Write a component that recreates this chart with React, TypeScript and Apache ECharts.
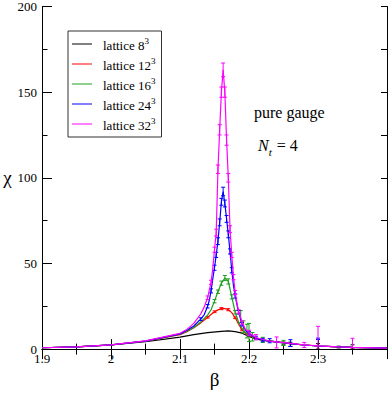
import React, { useEffect, useRef } from "react";
import * as echarts from "echarts";

// ---------- data ----------
const seriesNames = ["lattice 8", "lattice 12", "lattice 16", "lattice 24", "lattice 32"];
const seriesColors = ["#000000", "#ff0000", "#1e9e1e", "#0000ff", "#ff00ff"];

const beta8 = [1.9, 1.95, 2.0, 2.05, 2.1, 2.12, 2.14, 2.16, 2.17, 2.18, 2.19, 2.2, 2.21, 2.22, 2.24, 2.26, 2.28, 2.3, 2.33, 2.35, 2.4];
const chi8 = [0.8, 1.3, 2.4, 4.3, 7.0, 8.4, 9.6, 10.4, 10.6, 10.2, 9.3, 7.4, 6.0, 5.1, 4.1, 3.2, 2.4, 1.8, 1.3, 1.0, 0.6];

const beta12 = [1.9, 1.95, 2.0, 2.05, 2.1, 2.11, 2.12, 2.13, 2.14, 2.145, 2.15, 2.155, 2.16, 2.165, 2.17, 2.175, 2.18, 2.185, 2.19, 2.195, 2.2, 2.21, 2.22, 2.24, 2.26, 2.28, 2.3, 2.33, 2.35, 2.4];
const chi12 = [0.8, 1.3, 2.5, 4.6, 8.4, 10.2, 12.5, 15.3, 18.5, 20.2, 21.8, 22.9, 23.6, 23.7, 23.0, 21.3, 18.3, 14.6, 11.2, 9.3, 8.0, 6.4, 5.3, 4.2, 3.2, 2.4, 1.8, 1.3, 1.0, 0.6];

const beta16 = [1.9, 1.95, 2.0, 2.05, 2.1, 2.11, 2.12, 2.13, 2.14, 2.145, 2.15, 2.155, 2.16, 2.165, 2.17, 2.175, 2.18, 2.185, 2.19, 2.195, 2.2, 2.21, 2.22, 2.24, 2.26, 2.28, 2.3, 2.33, 2.35, 2.4];
const chi16 = [0.8, 1.3, 2.5, 4.7, 8.7, 10.4, 12.6, 15.8, 19.8, 23.0, 28.0, 33.5, 38.5, 41.5, 39.5, 30.5, 21.5, 15.5, 12.0, 9.8, 8.6, 6.6, 5.4, 4.2, 3.2, 2.4, 1.8, 1.3, 1.0, 0.6];

const beta24 = [1.9, 1.95, 2.0, 2.05, 2.1, 2.11, 2.12, 2.13, 2.135, 2.14, 2.1425, 2.145, 2.1475, 2.15, 2.1525, 2.155, 2.1575, 2.16, 2.1625, 2.165, 2.1675, 2.17, 2.1725, 2.175, 2.1775, 2.18, 2.1825, 2.185, 2.19, 2.195, 2.2, 2.205, 2.21, 2.215, 2.22, 2.23, 2.24, 2.25, 2.26, 2.28, 2.3, 2.33, 2.35, 2.4];
const chi24 = [0.8, 1.3, 2.5, 4.7, 8.9, 11.0, 13.5, 17.5, 20.0, 25.0, 28.5, 34.0, 41.0, 47.5, 55.0, 63.0, 74.0, 86.0, 92.0, 85.0, 76.0, 67.0, 57.0, 46.0, 37.0, 31.0, 26.0, 21.5, 14.5, 11.0, 9.0, 7.6, 6.5, 5.8, 5.3, 4.7, 4.2, 3.7, 3.2, 2.4, 1.8, 1.3, 1.0, 0.6];

const beta32 = [1.9, 1.95, 2.0, 2.05, 2.1, 2.11, 2.12, 2.13, 2.135, 2.14, 2.145, 2.1475, 2.15, 2.1525, 2.155, 2.1575, 2.16, 2.1625, 2.165, 2.1675, 2.17, 2.1725, 2.175, 2.1775, 2.18, 2.1825, 2.185, 2.19, 2.195, 2.2, 2.21, 2.22, 2.23, 2.24, 2.26, 2.28, 2.3, 2.33, 2.35, 2.4];
const chi32 = [0.8, 1.3, 2.5, 4.8, 9.2, 11.5, 15.0, 20.5, 24.5, 30.0, 39.0, 47.0, 58.0, 68.0, 105.0, 128.0, 150.0, 163.0, 150.0, 122.0, 100.0, 70.0, 55.0, 42.0, 33.0, 27.0, 22.0, 15.5, 11.5, 9.5, 6.8, 5.6, 4.7, 4.2, 3.3, 2.5, 1.9, 1.3, 1.0, 0.6];

// measured points: [beta, chi, error]
const err8 = [[2.25, 3.3, 0.8], [2.26, 2.8, 1.2], [2.3, 1.6, 1.6], [2.33, 1.2, 0.5], [2.35, 1.3, 1.2]];
const err12 = [[2.14, 18.5, 0.4], [2.15, 21.8, 0.5], [2.16, 23.6, 0.6], [2.17, 23.0, 0.6], [2.18, 18.3, 0.5], [2.19, 11.2, 0.5], [2.2, 8.0, 0.5]];
const err16 = [[2.15, 28.0, 1.0], [2.155, 33.5, 1.0], [2.16, 38.5, 1.2], [2.165, 41.5, 1.5], [2.17, 39.5, 1.5], [2.175, 30.5, 1.2], [2.18, 21.5, 1.0], [2.188, 19.0, 3.5], [2.192, 13.0, 3.5], [2.197, 10.5, 4.0], [2.2, 9.7, 5.3], [2.205, 7.2, 2.5], [2.22, 5.4, 1.5], [2.25, 3.6, 1.5]];
const err24 = [[2.13, 17.5, 0.8], [2.14, 25.0, 1.0], [2.145, 34.0, 1.2], [2.15, 47.5, 1.5], [2.1525, 55.0, 1.5], [2.155, 63.0, 2.0], [2.1575, 74.0, 2.0], [2.16, 86.0, 2.0], [2.1625, 92.0, 2.5], [2.165, 85.0, 2.0], [2.1675, 76.0, 2.0], [2.17, 67.0, 2.0], [2.1725, 57.0, 1.5], [2.175, 46.0, 1.5], [2.18, 31.0, 1.2], [2.185, 21.5, 1.0], [2.19, 14.5, 1.0], [2.2, 9.0, 1.2], [2.21, 6.5, 1.0], [2.22, 5.3, 1.0], [2.23, 4.9, 1.2], [2.26, 3.5, 2.0], [2.3, 6.0, 0.4]];
const err32 = [[2.14, 30.0, 1.0], [2.145, 39.0, 1.2], [2.15, 58.0, 1.5], [2.1525, 68.0, 2.0], [2.155, 105.0, 2.5], [2.1575, 128.0, 3.0], [2.16, 150.0, 3.0], [2.1625, 163.0, 4.0], [2.165, 150.0, 3.0], [2.1675, 122.0, 3.0], [2.17, 100.0, 2.5], [2.1725, 70.0, 2.0], [2.175, 55.0, 1.5], [2.1775, 42.0, 1.5], [2.18, 33.0, 1.2], [2.185, 22.0, 1.0], [2.19, 15.5, 1.0], [2.2, 9.5, 1.5], [2.21, 7.0, 1.5], [2.24, 3.9, 3.2], [2.28, 2.4, 1.5], [2.3, 6.5, 6.8], [2.35, 3.5, 2.8]];

const xTicks = [1.9, 2.0, 2.1, 2.2, 2.3];
const yTicks = [0, 50, 100, 150, 200];

const curves = [
  [beta8, chi8],
  [beta12, chi12],
  [beta16, chi16],
  [beta24, chi24],
  [beta32, chi32],
];
const errSets = [err8, err12, err16, err24, err32];

const FONT = "Liberation Serif";

export default function App() {
  const ref = useRef<HTMLDivElement>(null);
  useEffect(() => {
    if (!ref.current) return;
    const chart = echarts.init(ref.current, null, { renderer: "svg" });

    const lineSeries = curves.map(([bs, cs], i) => ({
      name: seriesNames[i],
      type: "line",
      data: bs.map((b, k) => [b, cs[k]]),
      showSymbol: false,
      symbol: "none",
      color: seriesColors[i],
      lineStyle: { color: seriesColors[i], width: 1.2 },
      z: 2 + i,
    }));

    const errSeries = errSets.map((pts, i) => ({
      name: seriesNames[i],
      type: "custom",
      clip: true,
      data: pts,
      encode: { x: 0, y: 1 },
      z: 2 + i,
      renderItem: (params: any, api: any) => {
        const x = api.value(0);
        const y = api.value(1);
        const e = api.value(2);
        const top = api.coord([x, y + e]);
        const bot = api.coord([x, y - e]);
        const c = seriesColors[i];
        const w = 2;
        return {
          type: "group",
          children: [
            { type: "line", shape: { x1: top[0], y1: top[1], x2: bot[0], y2: bot[1] }, style: { stroke: c, lineWidth: 1 } },
            { type: "line", shape: { x1: top[0] - w, y1: top[1], x2: top[0] + w, y2: top[1] }, style: { stroke: c, lineWidth: 1 } },
            { type: "line", shape: { x1: bot[0] - w, y1: bot[1], x2: bot[0] + w, y2: bot[1] }, style: { stroke: c, lineWidth: 1 } },
          ],
        };
      },
    }));

    const axisLine = { show: true, lineStyle: { color: "#000", width: 1 } };

    chart.setOption({
      animation: false,
      textStyle: { fontFamily: FONT },
      grid: { left: 42, right: 1, top: 6, bottom: 41, containLabel: false },
      legend: {
        data: seriesNames,
        orient: "vertical",
        left: 68,
        top: 31,
        padding: [5, 6, 5, 4],
        itemGap: 4,
        itemWidth: 20,
        itemHeight: 1,
        icon: "rect",
        borderColor: "#333",
        borderWidth: 1,
        backgroundColor: "#fff",
        selectedMode: false,
        formatter: (name: string) => `{g|}{a|${name}}{s|3}`,
        textStyle: {
          fontFamily: FONT,
          rich: {
            g: { width: 6 },
            a: { fontFamily: FONT, fontSize: 13, color: "#000", lineHeight: 16, verticalAlign: "bottom" },
            s: { fontFamily: FONT, fontSize: 9, color: "#000", lineHeight: 16, verticalAlign: "top", padding: [0, 0, 4, 0] },
          },
        },
      },
      xAxis: [
        {
          type: "value",
          min: 1.9,
          max: 2.4,
          interval: 0.1,
          position: "bottom",
          axisLine,
          splitLine: { show: false },
          axisTick: { inside: true, length: 10, lineStyle: { color: "#000" } },
          minorTick: { show: true, splitNumber: 2, length: 5.5, lineStyle: { color: "#000" } },
          axisLabel: {
            margin: 3,
            fontFamily: FONT,
            fontSize: 13,
            color: "#000",
            formatter: (v: number) => {
              const t = xTicks.find((x) => Math.abs(x - v) < 1e-6);
              return t === undefined ? "" : String(t);
            },
          },
          name: "β",
          nameLocation: "middle",
          nameGap: 17,
          nameTextStyle: { fontFamily: FONT, fontSize: 19, color: "#000" },
        },
        {
          type: "value",
          min: 1.9,
          max: 2.4,
          interval: 0.1,
          position: "top",
          axisLine,
          splitLine: { show: false },
          axisTick: { inside: true, length: 10, lineStyle: { color: "#000" } },
          minorTick: { show: true, splitNumber: 2, length: 5.5, lineStyle: { color: "#000" } },
          axisLabel: { show: false },
        },
      ],
      yAxis: [
        {
          type: "value",
          min: 0,
          max: 200,
          interval: 50,
          position: "left",
          axisLine,
          splitLine: { show: false },
          axisTick: { inside: true, length: 10, lineStyle: { color: "#000" } },
          minorTick: { show: true, splitNumber: 2, length: 5.5, lineStyle: { color: "#000" } },
          axisLabel: {
            margin: 5,
            fontFamily: FONT,
            fontSize: 13,
            color: "#000",
            formatter: (v: number) => {
              const t = yTicks.find((y) => Math.abs(y - v) < 1e-6);
              return t === undefined ? "" : String(t);
            },
          },
          name: "χ",
          nameLocation: "middle",
          nameRotate: 0,
          nameGap: 29,
          nameTextStyle: { fontFamily: FONT, fontSize: 19, color: "#000" },
        },
        {
          type: "value",
          min: 0,
          max: 200,
          interval: 25,
          position: "right",
          axisLine,
          splitLine: { show: false },
          axisTick: { inside: true, length: 6, lineStyle: { color: "#000" } },
          axisLabel: { show: false },
        },
      ],
      graphic: [
        {
          type: "text",
          left: 254,
          top: 104,
          z: 10,
          style: { text: "pure gauge", font: `16px ${FONT}`, fontFamily: FONT, fontSize: 16, fill: "#000" },
        },
        {
          type: "text",
          left: 258,
          top: 137,
          z: 10,
          style: {
            text: "{i|N}{t|t}{r| = 4}",
            fill: "#000",
            rich: {
              i: { fontFamily: FONT, fontSize: 16, fontStyle: "italic", lineHeight: 20, verticalAlign: "top" },
              t: { fontFamily: FONT, fontSize: 11, fontStyle: "italic", lineHeight: 20, verticalAlign: "bottom", padding: [0, 1, 0, 0] },
              r: { fontFamily: FONT, fontSize: 16, lineHeight: 20, verticalAlign: "top" },
            },
          },
        },
      ],
      series: [...lineSeries, ...errSeries],
    });

    return () => chart.dispose();
  }, []);

  return <div ref={ref} style={{ width: 390, height: 394, position: "absolute", left: 0, top: 0 }} />;
}
